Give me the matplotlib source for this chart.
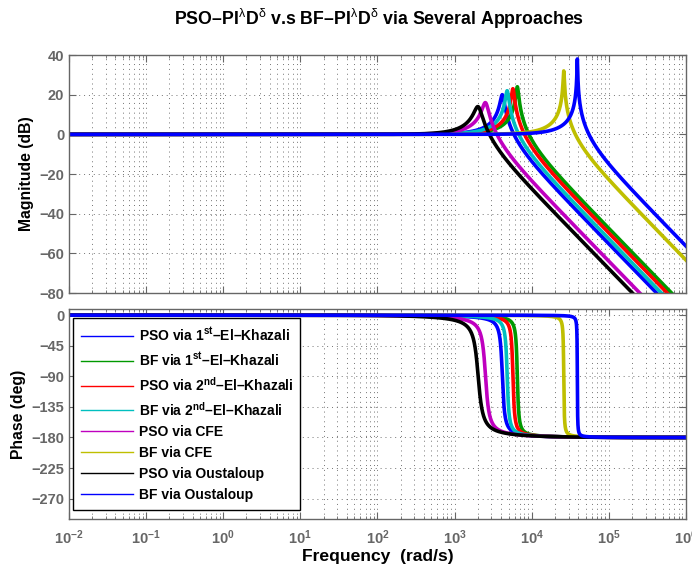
import numpy as np
import matplotlib.pyplot as plt
from matplotlib.ticker import LogLocator, NullFormatter, FuncFormatter

plt.rcParams['font.family'] = ['Liberation Sans', 'DejaVu Sans']
plt.rcParams['mathtext.fontset'] = 'custom'
plt.rcParams['mathtext.rm'] = 'Liberation Sans'
plt.rcParams['mathtext.it'] = 'Liberation Sans:italic'
plt.rcParams['mathtext.bf'] = 'Liberation Sans:bold'

# closed-loop responses: resonance frequency and peak height
labels = [
    r'PSO via 1$^{\mathbf{st}}$–El–Khazali',
    r'BF via 1$^{\mathbf{st}}$–El–Khazali',
    r'PSO via 2$^{\mathbf{nd}}$–El–Khazali',
    r'BF via 2$^{\mathbf{nd}}$–El–Khazali',
    'PSO via CFE',
    'BF via CFE',
    'PSO via Oustaloup',
    'BF via Oustaloup',
]
colors = ['#0000ff', '#009900', '#ff0000', '#00bfbf', '#bf00bf', '#bfbf00', '#000000', '#0000ff']
peak_freq = [4150, 6500, 5700, 4800, 2500, 26000, 2000, 39000]   # rad/s
peak_db = [20, 24, 23, 22, 16, 32, 14, 38]                       # dB

mag_ticks = [-80, -60, -40, -20, 0, 20, 40]
phase_ticks = [0, -45, -90, -135, -180, -225, -270]

w = np.logspace(-2, 6, 20000)

fig = plt.figure(figsize=(6.92, 5.66), dpi=100)
ax1 = fig.add_axes([0.0997, 0.4823, 0.8916, 0.4205])
ax2 = fig.add_axes([0.0997, 0.083, 0.8916, 0.371])

for lab, col, wp, mp in zip(labels, colors, peak_freq, peak_db):
    # second order system with the given resonance peak
    mr = 10 ** (mp / 20)
    zeta = np.sqrt((1 - np.sqrt(1 - 1 / mr**2)) / 2)
    wn = wp / np.sqrt(1 - 2 * zeta**2)
    s = 1j * w
    h = wn**2 / (s**2 + 2 * zeta * wn * s + wn**2)
    ax1.semilogx(w, 20 * np.log10(np.abs(h)), color=col, lw=2.6)
    ax2.semilogx(w, np.degrees(np.angle(h)), color=col, lw=2.6, label=lab)

grey = '0.4'
decade_fmt = FuncFormatter(lambda v, p: r'$\mathbf{10^{%d}}$' % round(np.log10(v)))
for ax in (ax1, ax2):
    ax.set_xlim(1e-2, 1e6)
    ax.xaxis.set_major_locator(LogLocator(base=10, numticks=20))
    ax.xaxis.set_minor_locator(LogLocator(base=10, subs=np.arange(2, 10), numticks=20))
    ax.xaxis.set_major_formatter(decade_fmt)
    ax.xaxis.set_minor_formatter(NullFormatter())
    ax.grid(True, which='major', ls=(0, (1, 4)), color='0.45', lw=0.7)
    ax.grid(True, which='minor', axis='x', ls=(0, (1, 4)), color='0.45', lw=0.7)
    ax.tick_params(which='both', direction='in', top=True, right=True, color=grey,
                   labelcolor=grey, labelsize=10.5)
    ax.tick_params(which='major', length=5)
    ax.tick_params(which='minor', length=2.5)
    ax.tick_params(axis='x', pad=7)
    for sp in ax.spines.values():
        sp.set_color(grey)
        sp.set_linewidth(1.0)

ax1.set_ylim(-80, 40)
ax1.set_yticks(mag_ticks)
ax1.tick_params(labelbottom=False)
ax1.set_ylabel('Magnitude (dB)', fontsize=11.3, fontweight='bold')

ax2.set_ylim(-300, 9)
ax2.set_yticks(phase_ticks)
ax2.set_ylabel('Phase (deg)', fontsize=11.3, fontweight='bold')
ax2.set_xlabel('Frequency  (rad/s)', fontsize=12.6, fontweight='bold', labelpad=1)
for t in ax2.get_yticklabels() + ax1.get_yticklabels():
    t.set_fontweight('bold')

leg = ax2.legend(loc='upper left', bbox_to_anchor=(0.006, 0.038, 0.368, 0.919), mode='expand',
                 prop={'weight': 'bold', 'size': 10}, fancybox=False, framealpha=1,
                 edgecolor='black', handlelength=3.75, handletextpad=0.45, borderpad=0.6,
                 labelspacing=0.5, borderaxespad=0)
leg.get_frame().set_linewidth(1.0)
for ln in leg.get_lines():
    ln.set_linewidth(1.0)

fig.suptitle(r'PSO–PI$^{\mathrm{λ}}$D$^{\mathrm{δ}}$ v.s BF–PI$^{\mathrm{λ}}$D$^{\mathrm{δ}}$ via Several Approaches',
             x=0.548, y=0.987, fontsize=12.8, fontweight='bold')

fig.savefig('out.png', dpi=100)
